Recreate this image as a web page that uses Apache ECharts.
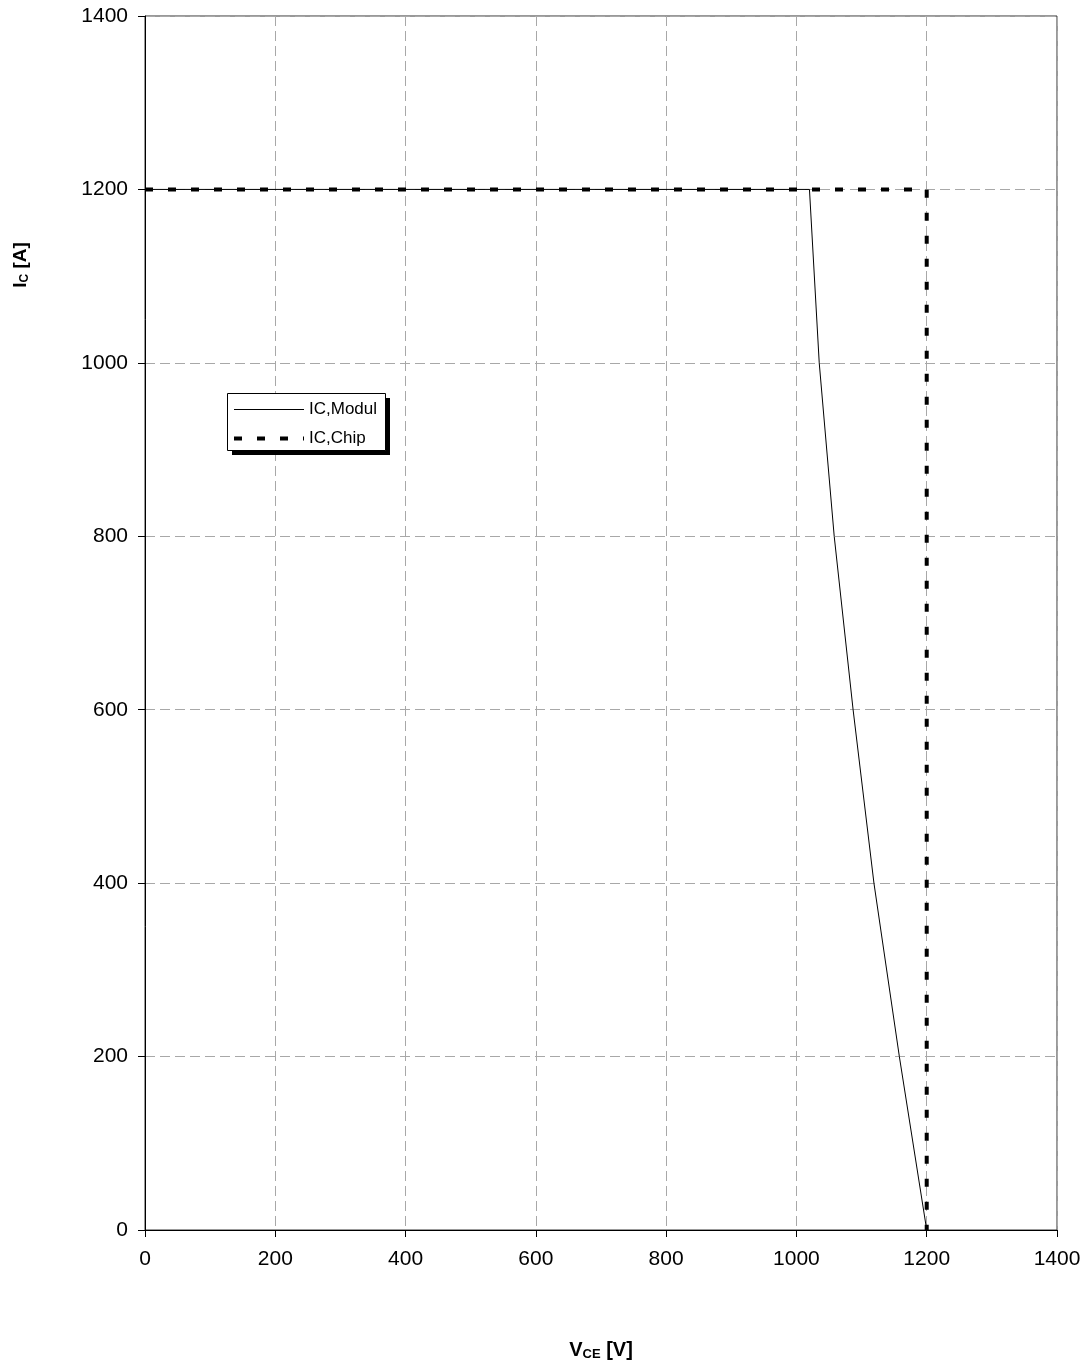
<!DOCTYPE html>
<html>
<head>
<meta charset="utf-8">
<script src="https://cdn.jsdelivr.net/npm/echarts@6/dist/echarts.min.js"></script>
<style>
  html, body { margin: 0; padding: 0; background: #fff; }
  #chart { width: 1086px; height: 1366px; }
</style>
</head>
<body>
<div id="chart"></div>
<script>
// Reverse-bias safe operating area: collector current vs collector-emitter voltage
const modulVce = [0, 1020, 1035, 1058, 1087, 1119, 1158, 1200];
const modulIc  = [1200, 1200, 1000, 800, 600, 400, 200, 0];
const chipVce  = [0, 1200, 1200];
const chipIc   = [1200, 1200, 0];
const seriesNames = ['IC,Modul', 'IC,Chip'];

const pairs = (xs, ys) => xs.map((x, i) => [x, ys[i]]);

const font = 'Arial, "Liberation Sans", sans-serif';
const plain = (v) => String(v);

const modulLine = { color: '#000', width: 1, type: 'solid' };
const chipLine  = { color: '#000', width: 4, type: [8, 15] };

// legend frame with a hard drop shadow
const legendBox = { x: 227, y: 393, w: 158, h: 57, shadow: 5 };

const chart = echarts.init(document.getElementById('chart'), null, { renderer: 'canvas' });

chart.setOption({
  backgroundColor: '#ffffff',
  animation: false,
  grid: {
    left: 145, right: 29, top: 16, bottom: 136,
    show: true, borderColor: '#333', borderWidth: 1, backgroundColor: 'transparent'
  },
  xAxis: {
    type: 'value', min: 0, max: 1400, interval: 200,
    axisLine: { show: true, onZero: false, lineStyle: { color: '#000', width: 1 } },
    axisTick: { show: true, inside: false, length: 7, lineStyle: { color: '#000' } },
    axisLabel: { color: '#000', fontSize: 21, fontFamily: font, margin: 19, formatter: plain },
    splitLine: { show: true, lineStyle: { color: '#a8a8a8', type: [10, 5], width: 1 } }
  },
  yAxis: {
    type: 'value', min: 0, max: 1400, interval: 200,
    axisLine: { show: true, onZero: false, lineStyle: { color: '#000', width: 1 } },
    axisTick: { show: true, inside: false, length: 7, lineStyle: { color: '#000' } },
    axisLabel: { color: '#000', fontSize: 21, fontFamily: font, margin: 17, formatter: plain },
    splitLine: { show: true, lineStyle: { color: '#a8a8a8', type: [10, 5], width: 1 } }
  },
  legend: {
    show: true,
    orient: 'vertical',
    left: legendBox.x, top: legendBox.y,
    data: [
      { name: seriesNames[0], lineStyle: modulLine, itemStyle: { opacity: 0 } },
      { name: seriesNames[1], lineStyle: chipLine, itemStyle: { opacity: 0 } }
    ],
    itemWidth: 70, itemHeight: 16, itemGap: 12,
    padding: [8, 8, 5, 5],
    backgroundColor: 'transparent',
    borderWidth: 0,
    textStyle: { color: '#000', fontSize: 17, fontFamily: font },
    selectedMode: false,
    z: 10
  },
  graphic: [
    {
      type: 'rect', z: 5, silent: true,
      shape: { x: legendBox.x + legendBox.shadow, y: legendBox.y + legendBox.shadow, width: legendBox.w, height: legendBox.h },
      style: { fill: '#000' }
    },
    {
      type: 'rect', z: 6, silent: true,
      shape: { x: legendBox.x + 0.5, y: legendBox.y + 0.5, width: legendBox.w, height: legendBox.h },
      style: { fill: '#fff', stroke: '#000', lineWidth: 1 }
    },
    {
      type: 'text',
      x: 601, y: 1350,
      style: {
        text: '{m|V}{s|CE}{m| [V]}',
        align: 'center', verticalAlign: 'middle',
        rich: {
          m: { fontSize: 20, fontWeight: 'bold', fontFamily: font, fill: '#000' },
          s: { fontSize: 13, fontWeight: 'bold', fontFamily: font, fill: '#000', padding: [8, 0, 0, 0] }
        }
      }
    },
    {
      type: 'text',
      x: 21, y: 265,
      rotation: Math.PI / 2,
      style: {
        text: '{m|I}{s|C}{m| [A]}',
        align: 'center', verticalAlign: 'middle',
        rich: {
          m: { fontSize: 19, fontWeight: 'bold', fontFamily: font, fill: '#000' },
          s: { fontSize: 12, fontWeight: 'bold', fontFamily: font, fill: '#000', padding: [8, 0, 0, 0] }
        }
      }
    }
  ],
  series: [
    {
      name: seriesNames[0],
      type: 'line',
      data: pairs(modulVce, modulIc),
      showSymbol: false, symbol: 'none',
      lineStyle: modulLine,
      itemStyle: { color: '#000' },
      z: 3
    },
    {
      name: seriesNames[1],
      type: 'line',
      data: pairs(chipVce, chipIc),
      showSymbol: false, symbol: 'none',
      lineStyle: chipLine,
      itemStyle: { color: '#000' },
      z: 4
    }
  ]
});
</script>
</body>
</html>
